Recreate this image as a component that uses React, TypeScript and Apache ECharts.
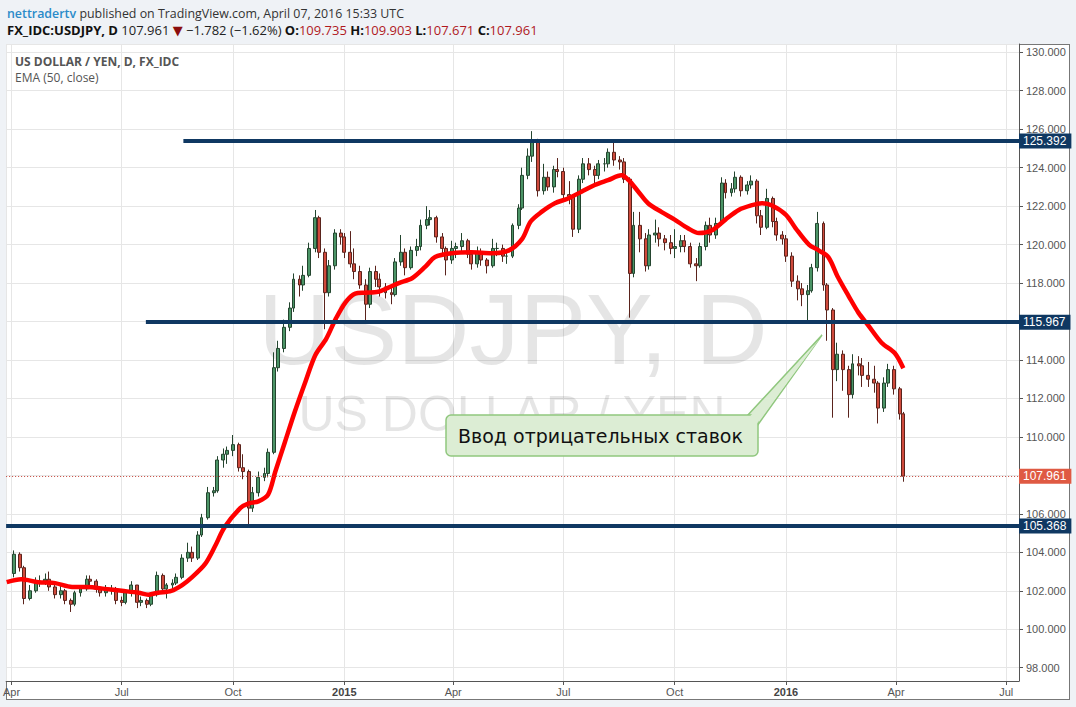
import React, { useEffect, useRef } from "react";
import * as echarts from "echarts";

// ---------- DATA ----------
// Candles: each candle = 3 trading days, the last one ending on 2016-04-07.
const FIRST_DAY = "2014-04-01";
const LAST_DAY = "2016-04-07";
const DAYS_PER_CANDLE = 3;
const FIRST_OPEN = 102.9;

const closes = [
  103.9, 103.2, 101.6, 102.0, 102.5, 102.5, 102.6, 102.2, 101.8, 102.0,
  101.5, 101.3, 101.9, 102.1, 102.6, 102.5, 102.1, 101.9, 102.0, 102.1,
  101.5, 101.4, 101.9, 102.3, 101.4, 101.5, 101.3, 101.8, 102.8, 102.1,
  102.3, 102.4, 102.7, 103.7, 104.0, 103.7, 104.9, 105.8, 107.1, 107.2,
  108.8, 109.1, 109.3, 109.6, 108.4, 108.2, 106.3, 107.1, 107.9, 108.1,
  109.2, 113.6, 114.6, 115.7, 116.7, 118.2, 117.9, 118.4, 119.8, 121.4,
  119.6, 117.5, 118.9, 120.6, 120.4, 119.6, 119.0, 118.6, 117.9, 116.9,
  118.6, 118.2, 117.8, 117.5, 117.4, 119.1, 119.6, 118.8, 119.7, 119.9,
  121.0, 121.3, 121.4, 120.4, 119.8, 119.2, 119.8, 119.9, 120.2, 119.5,
  119.0, 119.6, 119.2, 118.9, 119.8, 119.8, 119.4, 119.4, 121.0, 121.9,
  123.6, 124.6, 125.4, 122.8, 123.5, 123.0, 123.9, 123.8, 122.6, 122.5,
  120.8, 123.4, 124.2, 123.9, 123.6, 124.2, 124.2, 124.8, 124.4, 124.3,
  123.4, 118.5, 121.0, 120.3, 118.9, 120.5, 120.6, 120.3, 120.1, 119.8,
  119.9, 120.2, 119.9, 119.0, 118.9, 119.9, 121.0, 120.5, 121.1, 123.2,
  122.7, 122.9, 123.5, 122.8, 123.1, 123.3, 121.5, 120.9, 122.4, 121.2,
  120.5, 120.3, 119.4, 118.1, 117.7, 117.4, 117.6, 118.8, 121.1, 117.9,
  116.6, 113.5, 114.3, 113.5, 112.2, 113.8, 113.7, 113.2, 113.0, 112.8,
  111.5, 112.8, 113.5, 112.5, 111.2, 107.961,
];

const lows = [
  102.7, 103.0, 101.3, 101.5, 101.9, 102.2, 102.3, 102.0, 101.6, 101.6,
  101.3, 100.9, 101.2, 101.7, 102.0, 102.2, 101.9, 101.7, 101.7, 101.8,
  101.3, 101.2, 101.3, 101.7, 101.1, 101.2, 101.1, 101.2, 101.7, 101.9,
  101.6, 102.1, 102.3, 102.6, 103.5, 103.5, 103.6, 104.8, 105.7, 106.9,
  107.1, 108.4, 108.6, 109.0, 108.2, 107.8, 105.3, 106.1, 106.9, 107.7,
  107.9, 109.1, 113.4, 114.4, 115.5, 116.5, 117.3, 117.6, 118.3, 119.6,
  119.3, 115.6, 117.3, 118.7, 120.0, 119.3, 118.8, 118.2, 117.7, 115.9,
  116.7, 117.8, 117.3, 117.2, 116.9, 117.3, 118.9, 118.4, 118.7, 119.4,
  119.7, 120.8, 121.0, 120.1, 119.5, 118.4, 119.0, 119.3, 119.6, 119.3,
  118.7, 118.8, 118.9, 118.5, 118.8, 119.4, 119.1, 119.0, 119.3, 120.8,
  121.8, 123.4, 124.3, 122.5, 122.6, 122.8, 122.7, 123.5, 122.3, 122.1,
  120.4, 120.6, 123.2, 123.6, 123.2, 123.4, 123.8, 124.0, 124.1, 123.9,
  123.2, 116.2, 118.3, 119.6, 118.6, 118.7, 120.1, 119.9, 119.7, 119.5,
  119.3, 119.6, 119.6, 118.8, 118.1, 118.8, 119.7, 120.1, 120.3, 121.0,
  122.4, 122.5, 122.7, 122.5, 122.6, 122.9, 121.1, 120.5, 120.8, 120.9,
  120.2, 120.0, 119.1, 117.8, 117.1, 116.8, 116.0, 117.5, 118.6, 117.6,
  115.0, 111.0, 112.9, 112.4, 111.0, 112.0, 113.2, 112.6, 112.6, 112.3,
  110.7, 111.3, 112.6, 112.2, 110.9, 107.671,
];

const highs = [
  104.1, 104.0, 103.3, 102.3, 102.7, 102.8, 102.9, 103.0, 102.4, 102.3,
  102.1, 101.6, 102.0, 102.3, 102.8, 102.8, 102.6, 102.2, 102.3, 102.3,
  102.2, 101.7, 102.0, 102.5, 102.3, 101.7, 101.6, 101.9, 103.0, 102.9,
  102.4, 102.6, 102.9, 103.9, 104.5, 104.3, 105.1, 106.0, 107.4, 107.4,
  109.0, 109.4, 109.5, 110.1, 109.7, 109.1, 108.3, 107.4, 108.2, 108.4,
  109.4, 114.4, 115.0, 116.1, 117.0, 118.5, 118.4, 118.9, 120.1, 121.8,
  121.5, 119.8, 119.2, 120.8, 120.8, 120.6, 120.7, 119.8, 118.9, 118.2,
  118.8, 118.9, 118.5, 118.0, 117.8, 119.3, 120.5, 119.8, 119.9, 120.3,
  121.3, 122.0, 121.8, 121.5, 120.6, 119.9, 120.2, 120.1, 120.6, 120.3,
  119.6, 119.9, 119.8, 119.3, 120.3, 120.1, 120.0, 119.7, 121.1, 122.1,
  124.0, 125.0, 125.9, 125.5, 124.2, 123.8, 124.1, 124.5, 124.0, 123.3,
  122.6, 123.6, 124.5, 124.5, 124.1, 124.4, 124.5, 125.0, 125.3, 124.6,
  124.5, 123.5, 121.7, 121.7, 120.6, 120.8, 121.3, 120.9, 120.5, 120.5,
  120.8, 120.5, 120.5, 120.1, 119.3, 120.1, 121.2, 121.4, 121.4, 123.5,
  123.4, 123.2, 123.8, 123.6, 123.3, 123.6, 123.4, 121.8, 122.9, 122.5,
  121.4, 120.7, 120.5, 119.6, 118.4, 118.0, 117.9, 119.0, 121.7, 121.2,
  118.0, 116.7, 114.9, 114.5, 113.7, 114.3, 114.2, 114.1, 113.9, 113.7,
  112.9, 113.1, 113.8, 113.7, 112.6, 111.3,
];

// EMA (50, close)
const emaDates = [
  "2014-03-28", "2014-04-09", "2014-04-23", "2014-05-07", "2014-05-21", "2014-06-03", "2014-06-17",
  "2014-07-01", "2014-07-15", "2014-07-23", "2014-07-31", "2014-08-11", "2014-08-20", "2014-08-28",
  "2014-09-08", "2014-09-16", "2014-09-24", "2014-10-07", "2014-10-14", "2014-10-22", "2014-10-30",
  "2014-11-05", "2014-11-13", "2014-11-21", "2014-11-30", "2014-12-08", "2014-12-17", "2014-12-25",
  "2015-01-02", "2015-01-10", "2015-01-18", "2015-01-29", "2015-02-06", "2015-02-15", "2015-02-26",
  "2015-03-09", "2015-03-17", "2015-03-31", "2015-04-16", "2015-05-03", "2015-05-17", "2015-05-28",
  "2015-06-04", "2015-06-13", "2015-06-24", "2015-07-05", "2015-07-16", "2015-07-27", "2015-08-07",
  "2015-08-18", "2015-08-24", "2015-09-01", "2015-09-09", "2015-09-20", "2015-10-01", "2015-10-12",
  "2015-10-21", "2015-11-01", "2015-11-12", "2015-11-23", "2015-12-04", "2015-12-12", "2015-12-20",
  "2016-01-01", "2016-01-09", "2016-01-20", "2016-01-28", "2016-02-05", "2016-02-13", "2016-02-22",
  "2016-03-01", "2016-03-09", "2016-03-20", "2016-03-31", "2016-04-07",
];
const emaValues = [
  102.45, 102.6, 102.45, 102.4, 102.2, 102.2, 102.1,
  102.0, 101.9, 101.8, 101.9, 102.0, 102.3, 102.7,
  103.4, 104.3, 105.3, 106.3, 106.55, 106.65, 107.0,
  108.2, 109.75, 111.3, 112.9, 114.25, 115.1, 116.15,
  117.0, 117.45, 117.5, 117.55, 117.75, 118.0, 118.25,
  118.85, 119.35, 119.55, 119.6, 119.55, 119.7, 120.3,
  121.2, 121.7, 122.15, 122.4, 122.75, 123.1, 123.35,
  123.6, 123.35, 122.75, 122.15, 121.7, 121.3, 120.85,
  120.6, 120.75, 121.3, 121.8, 122.05, 122.15, 122.05,
  121.55, 120.85, 120.0, 119.7, 119.35, 118.3, 117.3,
  116.45, 115.8, 114.9, 114.35, 113.57,
];

// Horizontal levels drawn on the chart
const levelValues = [125.392, 115.967, 105.368];
const levelStarts = ["2014-08-21", "2014-07-21", null];
const LAST_PRICE = 107.961;

const X_MIN = [2014, 3, 27, 12];
const X_MAX = [2016, 7, 11, 14];
const Y_MIN = 97.31;
const Y_MAX = 130.43;

const MONTHS = ["Jan", "Feb", "Mar", "Apr", "May", "Jun", "Jul", "Aug", "Sep", "Oct", "Nov", "Dec"];

// ---------- helpers ----------
function t(s: string): number {
  const [y, m, d] = s.split("-").map(Number);
  return new Date(y, m - 1, d).getTime();
}
function tt(a: number[]): number {
  return new Date(a[0], a[1] - 1, a[2], a[3]).getTime();
}
function candleDates(): number[] {
  const days: number[] = [];
  const d = new Date(t(FIRST_DAY));
  const end = t(LAST_DAY);
  while (d.getTime() <= end) {
    const wd = d.getDay();
    if (wd !== 0 && wd !== 6) days.push(d.getTime());
    d.setDate(d.getDate() + 1);
  }
  const picked: number[] = [];
  for (let i = days.length - 1; i >= 0; i -= DAYS_PER_CANDLE) picked.unshift(days[i]);
  return picked.slice(-closes.length);
}

const NAVY = "#0f3862";
const FONT = "'Liberation Sans', Arial, sans-serif";
const UIFONT = "'Open Sans', 'Noto Sans', sans-serif";

export default function App() {
  const ref = useRef<HTMLDivElement>(null);

  useEffect(() => {
    const chart = echarts.init(ref.current!, null, { renderer: "svg" });
    const dates = candleDates();
    const candles = closes.map((c, i) => [
      dates[i],
      i === 0 ? FIRST_OPEN : closes[i - 1],
      c,
      lows[i],
      highs[i],
    ]);
    const xMin = tt(X_MIN);
    const xMax = tt(X_MAX);

    const lvlLabel = (v: number, bg: string) => ({
      show: true,
      position: "end",
      distance: 0,
      formatter: v.toFixed(3),
      backgroundColor: bg,
      color: "#fff",
      fontSize: 12,
      fontFamily: FONT,
      padding: [2, 5, 1, 4],
    });

    const markData: any[] = levelValues.map((v, i) => {
      const start = levelStarts[i];
      const style = { color: NAVY, width: 4, type: "solid" };
      if (start) {
        return [
          { coord: [t(start), v], lineStyle: style, label: lvlLabel(v, NAVY) },
          { coord: [xMax, v] },
        ];
      }
      return { yAxis: v, lineStyle: style, label: lvlLabel(v, NAVY) };
    });
    markData.push({
      yAxis: LAST_PRICE,
      lineStyle: { color: "#c4453a", width: 1, type: [1, 2] },
      label: lvlLabel(LAST_PRICE, "#df5a43"),
    });

    const option: any = {
      animation: false,
      backgroundColor: "transparent",
      grid: { left: 6, right: 57, top: 44, bottom: 26, containLabel: false },
      xAxis: {
        type: "time",
        min: xMin,
        max: xMax,
        splitNumber: 5,
        axisLine: { show: true, lineStyle: { color: "#555", width: 1 } },
        axisTick: { show: true, length: 4, lineStyle: { color: "#555" } },
        axisLabel: {
          color: "#555",
          fontSize: 11,
          fontFamily: FONT,
          margin: 5,
          formatter: (v: number) => {
            const d = new Date(v);
            return d.getMonth() === 0 ? `{y|${d.getFullYear()}}` : MONTHS[d.getMonth()];
          },
          rich: { y: { fontWeight: "bold", color: "#444", fontSize: 11, fontFamily: FONT } },
        },
        splitLine: { show: true, lineStyle: { color: "#e6e6e6", width: 1 } },
      },
      yAxis: {
        type: "value",
        position: "right",
        min: Y_MIN,
        max: Y_MAX,
        splitNumber: 16,
        scale: true,
        axisLine: { show: true, lineStyle: { color: "#555", width: 1 } },
        axisTick: { show: true, length: 4, lineStyle: { color: "#555" } },
        axisLabel: {
          color: "#555",
          fontSize: 11,
          fontFamily: FONT,
          margin: 7,
          showMinLabel: false,
          showMaxLabel: false,
          formatter: (v: number) => v.toFixed(3),
        },
        splitLine: { show: true, lineStyle: { color: "#e6e6e6", width: 1 } },
      },
      series: [
        {
          type: "candlestick",
          name: "USDJPY",
          data: candles,
          encode: { x: 0, y: [1, 2, 3, 4] },
          barWidth: 3.4,
          z: 3,
          itemStyle: {
            color: "#4b9466",
            color0: "#cf4a3c",
            borderColor: "#24452f",
            borderColor0: "#5a231c",
            borderWidth: 1,
          },
          markLine: {
            silent: true,
            symbol: ["none", "none"],
            animation: false,
            data: markData,
          },
        },
        {
          type: "line",
          name: "EMA (50, close)",
          data: emaDates.map((d, i) => [t(d), emaValues[i]]),
          showSymbol: false,
          smooth: 0.3,
          z: 4,
          lineStyle: { color: "#ff0000", width: 4.5 },
        },
      ],
      graphic: {
        elements: [
          // header
          {
            type: "text",
            x: 7,
            y: 13,
            style: {
              text: "{a|nettradertv} {b|published on TradingView.com, April 07, 2016 15:33 UTC}",
              verticalAlign: "middle",
              rich: {
                a: { fill: "#2a8bc9", fontSize: 12.4, fontFamily: UIFONT, fontWeight: 600 },
                b: { fill: "#333", fontSize: 12.4, fontFamily: UIFONT },
              },
            },
          },
          {
            type: "text",
            x: 7,
            y: 30,
            style: {
              text:
                "{k|FX_IDC:USDJPY, D} {n|107.961} {r|▼} {n|−1.782 (−1.62%)} {k|O:}{v|109.735} {k|H:}{v|109.903} {k|L:}{v|107.671} {k|C:}{v|107.961}",
              verticalAlign: "middle",
              rich: {
                k: { fill: "#111", fontSize: 13, fontFamily: UIFONT, fontWeight: "bold" },
                n: { fill: "#222", fontSize: 13, fontFamily: UIFONT },
                r: { fill: "#8b0d0d", fontSize: 13, fontFamily: "'DejaVu Sans', sans-serif" },
                v: { fill: "#b0191e", fontSize: 13, fontFamily: UIFONT },
              },
            },
          },
          // legend inside chart
          {
            type: "text",
            x: 15,
            y: 61,
            style: {
              text: "US DOLLAR / YEN, D, FX_IDC",
              verticalAlign: "middle",
              fill: "#555",
              fontSize: 12,
              fontWeight: "bold",
              fontFamily: UIFONT,
            },
          },
          {
            type: "text",
            x: 15,
            y: 77,
            style: {
              text: "EMA (50, close)",
              verticalAlign: "middle",
              fill: "#555",
              fontSize: 12,
              fontFamily: UIFONT,
            },
          },
          // watermark
          {
            type: "text",
            x: 513,
            y: 329,
            z: 1,
            silent: true,
            style: {
              text: "USDJPY, D",
              align: "center",
              verticalAlign: "middle",
              fill: "rgba(0,0,0,0.1)",
              fontSize: 100,
              fontFamily: FONT,
            },
          },
          {
            type: "text",
            x: 512,
            y: 414,
            z: 1,
            silent: true,
            style: {
              text: "US DOLLAR / YEN",
              align: "center",
              verticalAlign: "middle",
              fill: "rgba(0,0,0,0.1)",
              fontSize: 50,
              fontFamily: FONT,
            },
          },
          // callout
          {
            type: "polygon",
            z: 10,
            shape: { points: [[747, 416], [822, 335], [757, 426]] },
            style: { fill: "#dcedd4", stroke: "#90c77e", lineWidth: 1.5 },
          },
          {
            type: "rect",
            z: 11,
            shape: { x: 446, y: 415, width: 312, height: 41, r: 5 },
            style: { fill: "#dcedd4", stroke: "#90c77e", lineWidth: 1.5 },
          },
          {
            type: "polygon",
            z: 12,
            shape: { points: [[748.5, 418], [819.5, 339], [755.5, 425.5]] },
            style: { fill: "#dcedd4" },
          },
          {
            type: "text",
            z: 13,
            x: 458,
            y: 436,
            style: {
              text: "Ввод отрицательных ставок",
              verticalAlign: "middle",
              fill: "#111",
              fontSize: 19,
              fontFamily: "'DejaVu Sans', sans-serif",
            },
          },
        ],
      },
    };

    chart.setOption(option);
    return () => chart.dispose();
  }, []);

  return (
    <div
      style={{
        position: "fixed",
        left: 0,
        top: 0,
        width: 1076,
        height: 707,
        background: "#eff2f6",
        overflow: "hidden",
      }}
    >
      <div
        style={{
          position: "absolute",
          left: 6,
          top: 44,
          width: 1064,
          height: 656,
          boxSizing: "border-box",
          background: "#fff",
          border: "1px solid #777",
        }}
      />
      <div ref={ref} style={{ position: "absolute", left: 0, top: 0, width: 1076, height: 707 }} />
    </div>
  );
}
